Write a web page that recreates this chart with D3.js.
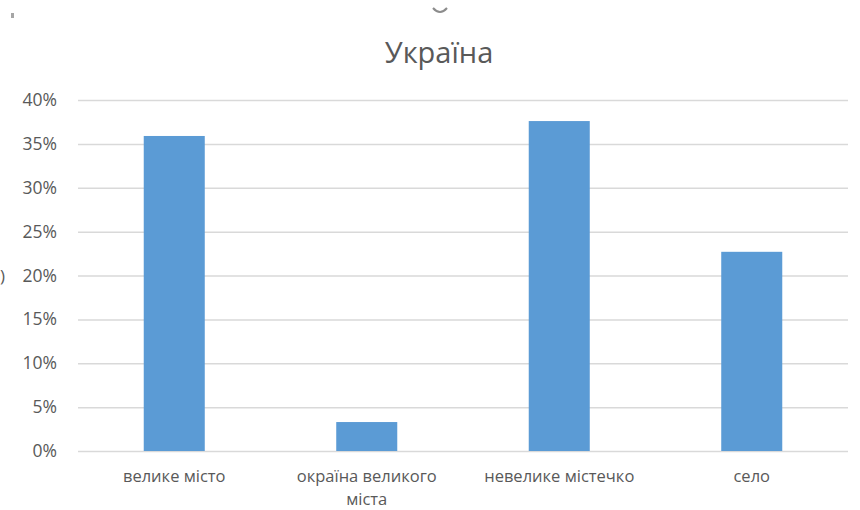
<!DOCTYPE html>
<html>
<head>
<meta charset="utf-8">
<script src="https://cdn.jsdelivr.net/npm/d3@7"></script>
<style>
  body { margin: 0; background: #fff; }
  text { font-family: "Open Sans", "Noto Sans", sans-serif; fill: #595959; }
</style>
</head>
<body>
<div id="chart"></div>
<script>
const WIDTH = 860;
const HEIGHT = 510;

const categories = ["велике місто", "окраїна великого міста", "невелике містечко", "село"];
const values = [0.359, 0.033, 0.376, 0.227];
const yTicks = [0, 0.05, 0.10, 0.15, 0.20, 0.25, 0.30, 0.35, 0.40];

const plot = { left: 78, right: 848, top: 100, bottom: 451 };

const svg = d3.select("#chart")
    .append("svg")
    .attr("width", WIDTH)
    .attr("height", HEIGHT);

const x = d3.scaleBand()
    .domain(categories)
    .range([plot.left, plot.right]);

const y = d3.scaleLinear()
    .domain([0, 0.4])
    .range([plot.bottom, plot.top]);

// gridlines + tick labels
const yAxis = d3.axisLeft(y)
    .tickValues(yTicks)
    .tickFormat(d3.format(".0%"))
    .tickSize(-(plot.right - plot.left))
    .tickPadding(21);

const gy = svg.append("g")
    .attr("transform", `translate(${plot.left},0)`)
    .call(yAxis);
gy.select(".domain").remove();
gy.selectAll("line").attr("stroke", "#d9d9d9").attr("stroke-width", 1.5);
gy.selectAll("text")
    .style("font-size", "17.5px")
    .attr("fill", "#595959");

// bars
const barW = x.bandwidth() * 0.317;
svg.selectAll(".bar")
    .data(values)
    .enter().append("rect")
    .attr("class", "bar")
    .attr("x", (d, i) => x(categories[i]) + (x.bandwidth() - barW) / 2)
    .attr("y", d => y(d))
    .attr("width", barW)
    .attr("height", d => y(0) - y(d))
    .attr("fill", "#5b9bd5");

// category labels (wrapped to band width like Excel)
const labels = svg.selectAll(".cat")
    .data(categories)
    .enter().append("text")
    .attr("class", "cat")
    .attr("text-anchor", "middle")
    .style("font-size", "16.5px")
    .attr("x", d => x(d) + x.bandwidth() / 2)
    .attr("y", 482);

labels.each(function(d) {
    const t = d3.select(this);
    const lines = d === "окраїна великого міста" ? ["окраїна великого", "міста"] : [d];
    lines.forEach((l, i) => {
        t.append("tspan")
            .attr("x", x(d) + x.bandwidth() / 2)
            .attr("dy", i === 0 ? 0 : 22.5)
            .text(l);
    });
});

// title
svg.append("text")
    .attr("x", 439)
    .attr("y", 63)
    .attr("text-anchor", "middle")
    .style("font-size", "29px")
    .text("Україна");

// cropped remnants at the edges of the screenshot
svg.append("path")
    .attr("d", "M433,8 Q440,16 447,8")
    .attr("fill", "none")
    .attr("stroke", "#8c8c8c")
    .attr("stroke-width", 2);
svg.append("rect")
    .attr("x", 11).attr("y", 13).attr("width", 3).attr("height", 5)
    .attr("fill", "#a6a6a6");
svg.append("text")
    .attr("x", 0)
    .attr("y", 282)
    .style("font-size", "17px")
    .text(")");
</script>
</body>
</html>
